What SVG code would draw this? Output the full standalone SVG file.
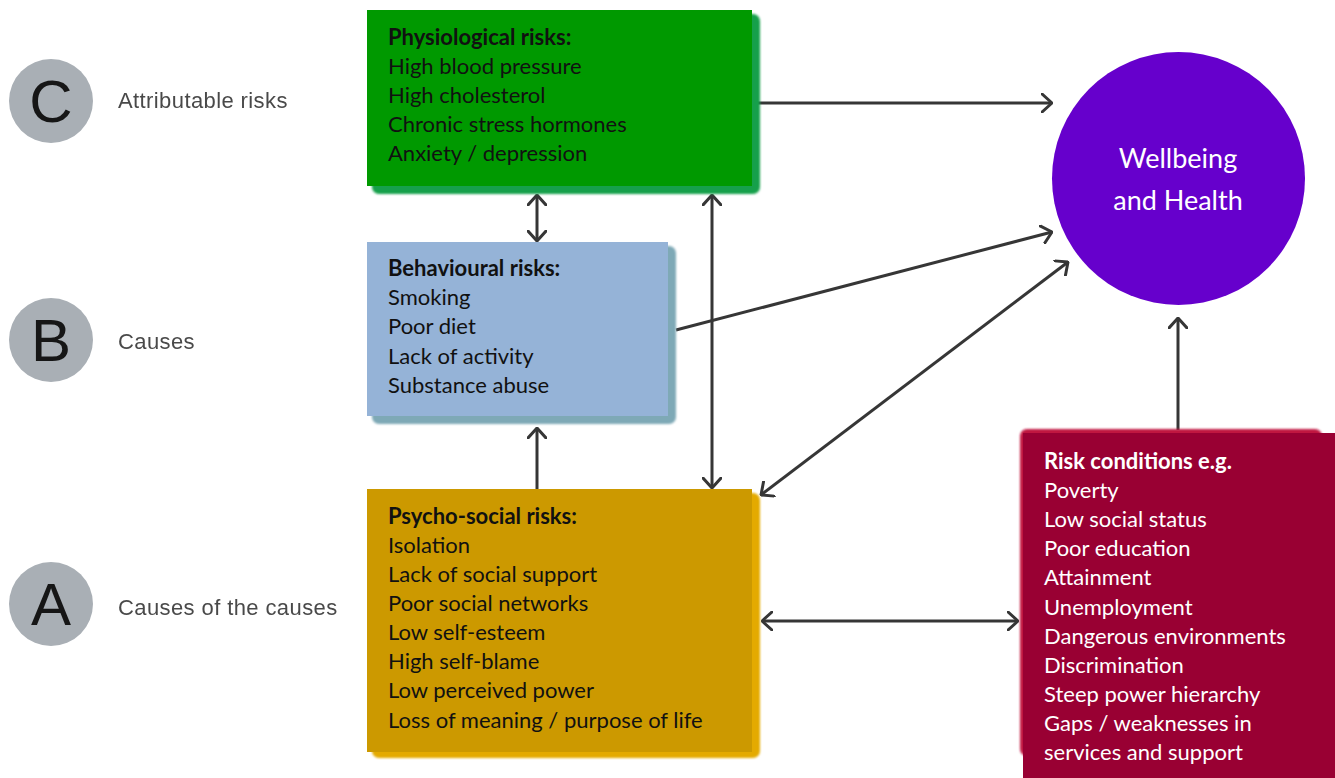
<svg xmlns="http://www.w3.org/2000/svg" width="1335" height="778" viewBox="0 0 1335 778">
  <defs>
    <style>
      .lvl-disc { fill: #a9afb5; }
      .lvl-letter { font-family: "Liberation Sans", Arial, sans-serif; font-size: 60px; fill: #151515; text-anchor: middle; }
      .lvl-label { font-family: "Liberation Sans", Arial, sans-serif; font-size: 22px; letter-spacing: 0.4px; fill: #4a4a4a; }
      .box-text { font-family: Lato, "Open Sans", sans-serif; font-size: 22px; fill: #111; }
      .box-text .head { font-weight: bold; }
      .light { fill: #ffffff; }
      .circle-text { font-family: Lato, "Open Sans", sans-serif; font-size: 27px; fill: #ffffff; text-anchor: middle; }
      .link { stroke: #363636; stroke-width: 3; fill: none; }
    </style>
    <filter id="soft" x="-5%" y="-5%" width="110%" height="110%">
      <feGaussianBlur stdDeviation="1.2"/>
    </filter>
    <filter id="haze" x="-5%" y="-20%" width="110%" height="140%">
      <feGaussianBlur stdDeviation="0.6"/>
    </filter>
    <marker id="chev" viewBox="0 0 12 20" refX="11" refY="10" markerWidth="12" markerHeight="20" markerUnits="userSpaceOnUse" orient="auto-start-reverse">
      <path d="M1,1 L11,10 L1,19" fill="none" stroke="#363636" stroke-width="3" stroke-linecap="round" stroke-linejoin="round"/>
    </marker>
  </defs>

  <rect width="1335" height="778" fill="#ffffff"/>

  <!-- Level markers on the left -->
  <g id="level-c" filter="url(#haze)">
    <circle class="lvl-disc" cx="51" cy="101" r="42"/>
    <text class="lvl-letter" x="51" y="122">C</text>
    <text class="lvl-label" x="118" y="108">Attributable risks</text>
  </g>
  <g id="level-b" filter="url(#haze)">
    <circle class="lvl-disc" cx="51" cy="340" r="42"/>
    <text class="lvl-letter" x="51" y="361">B</text>
    <text class="lvl-label" x="118" y="349">Causes</text>
  </g>
  <g id="level-a" filter="url(#haze)">
    <circle class="lvl-disc" cx="51" cy="604" r="42"/>
    <text class="lvl-letter" x="51" y="625">A</text>
    <text class="lvl-label" x="118" y="615">Causes of the causes</text>
  </g>

  <!-- Connectors -->
  <g id="connectors">
    <line class="link" x1="752" y1="103" x2="1052" y2="103" marker-end="url(#chev)"/>
    <line class="link" x1="537" y1="195" x2="537" y2="241" marker-start="url(#chev)" marker-end="url(#chev)"/>
    <line class="link" x1="712" y1="195" x2="712" y2="488" marker-start="url(#chev)" marker-end="url(#chev)"/>
    <line class="link" x1="676" y1="330" x2="1052" y2="232" marker-end="url(#chev)"/>
    <line class="link" x1="1068" y1="262" x2="761" y2="495" marker-start="url(#chev)" marker-end="url(#chev)"/>
    <line class="link" x1="537" y1="489" x2="537" y2="428" marker-end="url(#chev)"/>
    <line class="link" x1="762" y1="621" x2="1018" y2="621" marker-start="url(#chev)" marker-end="url(#chev)"/>
    <line class="link" x1="1178" y1="430" x2="1178" y2="318" marker-end="url(#chev)"/>
  </g>

  <!-- Physiological risks -->
  <g id="physiological">
    <rect x="372" y="14" width="388" height="180" rx="7" fill="#15a04c" filter="url(#soft)"/>
    <rect x="367" y="10" width="385" height="176" fill="#009900"/>
    <text class="box-text">
      <tspan class="head" x="388" y="45">Physiological risks:</tspan>
      <tspan x="388" y="74">High blood pressure</tspan>
      <tspan x="388" y="103">High cholesterol</tspan>
      <tspan x="388" y="132">Chronic stress hormones</tspan>
      <tspan x="388" y="161">Anxiety / depression</tspan>
    </text>
  </g>

  <!-- Behavioural risks -->
  <g id="behavioural">
    <rect x="372" y="246" width="304" height="178" rx="7" fill="#7ea9b6" filter="url(#soft)"/>
    <rect x="367" y="242" width="301" height="174" fill="#95b3d7"/>
    <text class="box-text">
      <tspan class="head" x="388" y="276">Behavioural risks:</tspan>
      <tspan x="388" y="305">Smoking</tspan>
      <tspan x="388" y="334">Poor diet</tspan>
      <tspan x="388" y="364">Lack of activity</tspan>
      <tspan x="388" y="393">Substance abuse</tspan>
    </text>
  </g>

  <!-- Psycho-social risks -->
  <g id="psychosocial">
    <rect x="372" y="493" width="388" height="265" rx="7" fill="#e4aa00" filter="url(#soft)"/>
    <rect x="367" y="489" width="385" height="263" fill="#cc9900"/>
    <text class="box-text">
      <tspan class="head" x="388" y="524">Psycho-social risks:</tspan>
      <tspan x="388" y="553">Isolation</tspan>
      <tspan x="388" y="582">Lack of social support</tspan>
      <tspan x="388" y="611">Poor social networks</tspan>
      <tspan x="388" y="640">Low self-esteem</tspan>
      <tspan x="388" y="669">High self-blame</tspan>
      <tspan x="388" y="698">Low perceived power</tspan>
      <tspan x="388" y="728">Loss of meaning / purpose of life</tspan>
    </text>
  </g>

  <!-- Risk conditions -->
  <g id="risk-conditions">
    <rect x="1020" y="429" width="302" height="327" rx="7" fill="#c0143f" filter="url(#soft)"/>
    <rect x="1023" y="433" width="312" height="345" fill="#990033"/>
    <text class="box-text light">
      <tspan class="head" x="1044" y="469">Risk conditions e.g.</tspan>
      <tspan x="1044" y="498">Poverty</tspan>
      <tspan x="1044" y="527">Low social status</tspan>
      <tspan x="1044" y="556">Poor education</tspan>
      <tspan x="1044" y="585">Attainment</tspan>
      <tspan x="1044" y="615">Unemployment</tspan>
      <tspan x="1044" y="644">Dangerous environments</tspan>
      <tspan x="1044" y="673">Discrimination</tspan>
      <tspan x="1044" y="702">Steep power hierarchy</tspan>
      <tspan x="1044" y="731">Gaps / weaknesses in</tspan>
      <tspan x="1044" y="760">services and support</tspan>
    </text>
  </g>

  <!-- Outcome -->
  <g id="wellbeing">
    <circle cx="1178.5" cy="178.5" r="126.5" fill="#6600cc"/>
    <text class="circle-text" x="1178" y="168">Wellbeing</text>
    <text class="circle-text" x="1178" y="210">and Health</text>
  </g>
</svg>
